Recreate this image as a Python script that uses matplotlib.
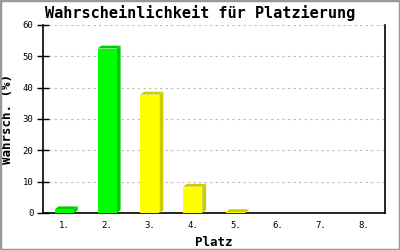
import matplotlib
matplotlib.use("Agg")
import matplotlib.pyplot as plt
from matplotlib.patches import Rectangle

# ============= Data
plaetze = ['1.', '2.', '3.', '4.', '5.', '6.', '7.', '8.']
wahrsch = [1.2, 52.5, 37.8, 8.4, 0.3, 0.0, 0.0, 0.0]
front_colors = ['#00ff00', '#00ff00', '#ffff00', '#ffff00', '#ffff00', '#ffff00', '#ffff00', '#ffff00']
side_colors = ['#00cc00', '#00cc00', '#cccc00', '#cccc00', '#cccc00', '#cccc00', '#cccc00', '#cccc00']
y_ticks = [0, 10, 20, 30, 40, 50, 60]

# ============= Style
mono = 'DejaVu Sans Mono'
barWidth = 0.45
depthX = 0.09  # 3d offset in data units
depthY = 0.9

fig = plt.figure(figsize=(4, 2.5), dpi=100)
fig.patches.append(Rectangle((0, 0), 1, 1, transform=fig.transFigure, fill=False,
                             edgecolor='#999999', linewidth=2.5))
ax = fig.add_axes([0.1075, 0.148, 0.855, 0.752])

for i, v in enumerate(wahrsch):
    if v <= 0:
        continue
    x0 = i - barWidth / 2
    x1 = i + barWidth / 2
    # side + top of the bar
    ax.fill([x1, x1 + depthX, x1 + depthX, x1], [0, depthY, v + depthY, v],
            color=side_colors[i], linewidth=0, zorder=3)
    ax.fill([x0, x0 + depthX, x1 + depthX, x1], [v, v + depthY, v + depthY, v],
            color=side_colors[i], linewidth=0, zorder=3)
    ax.bar(i, v, width=barWidth, color=front_colors[i], linewidth=0, zorder=4)

ax.set_xlim(-0.5, len(plaetze) - 0.5)
ax.set_ylim(0, 60)
ax.set_xticks(range(len(plaetze)))
ax.set_xticklabels(plaetze, fontfamily=mono, fontsize=6.5)
ax.set_yticks(y_ticks)
ax.set_yticklabels([str(t) for t in y_ticks], fontfamily=mono, fontsize=6.5)
ax.tick_params(axis='x', length=0, pad=6)
ax.tick_params(axis='y', direction='inout', length=8, width=1, pad=3)

ax.yaxis.grid(True, color='#bbbbbb', linestyle=(0, (2, 3)), linewidth=0.8)
ax.set_axisbelow(True)
ax.spines['top'].set_visible(False)
for s in ['left', 'bottom', 'right']:
    ax.spines[s].set_linewidth(1.2)

ax.set_xlabel('Platz', fontfamily=mono, fontweight='bold', fontsize=9, labelpad=4)
ax.set_ylabel('Wahrsch. (%)', fontfamily=mono, fontweight='bold', fontsize=9, labelpad=6)
fig.text(0.5, 0.948, 'Wahrscheinlichkeit für Platzierung', ha='center', va='center',
         fontfamily=mono, fontweight='bold', fontsize=11)

fig.savefig('out.png', dpi=100)
